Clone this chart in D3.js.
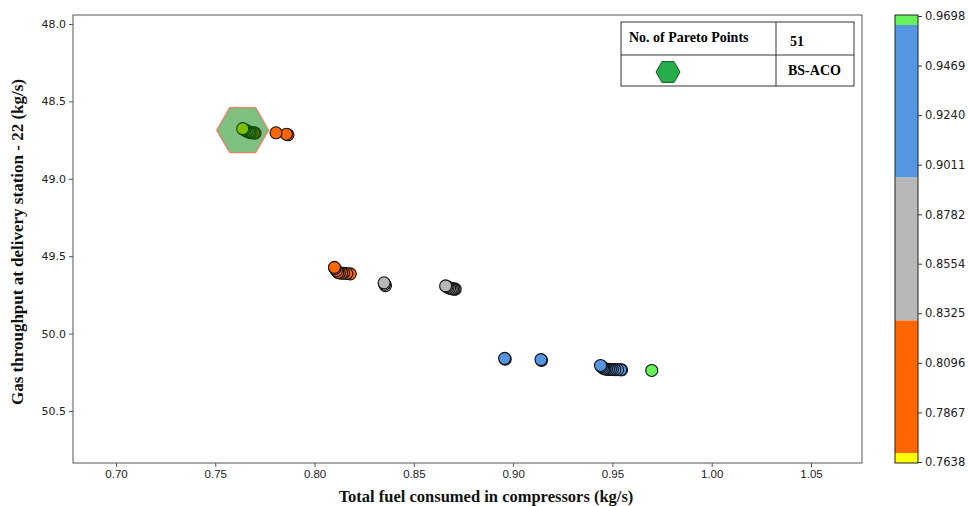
<!DOCTYPE html>
<html>
<head>
<meta charset="utf-8">
<script src="https://cdn.jsdelivr.net/npm/d3@7"></script>
<style>
  html, body { margin: 0; padding: 0; background: #fff; }
  svg { display: block; }
</style>
</head>
<body>
<svg id="chart" width="968" height="506"></svg>
<script>
// Pareto front: total compressor fuel (kg/s) vs gas throughput at delivery station 22 (kg/s)
const fuel = [
  0.7638, 0.7643, 0.7649, 0.7655, 0.7661, 0.7668, 0.7675, 0.7681, 0.7693, 0.7700,
  0.7806, 0.7858, 0.7866,
  0.8100, 0.8103, 0.8110, 0.8117, 0.8125, 0.8136, 0.8146, 0.8162, 0.8180,
  0.8350, 0.8353, 0.8357,
  0.8660, 0.8666, 0.8672, 0.8680, 0.8688, 0.8695, 0.8702, 0.8708,
  0.8957, 0.8960, 0.9140, 0.9143,
  0.9440, 0.9444, 0.9450, 0.9456, 0.9462, 0.9470, 0.9480, 0.9490, 0.9500, 0.9512, 0.9526, 0.9542, 0.9546,
  0.9698
];
const throughput = [
  48.676, 48.680, 48.684, 48.689, 48.693, 48.697, 48.700, 48.702, 48.703, 48.705,
  48.703, 48.712, 48.716,
  49.572, 49.580, 49.594, 49.604, 49.608, 49.610, 49.610, 49.612, 49.614,
  49.672, 49.681, 49.690,
  49.692, 49.697, 49.702, 49.706, 49.709, 49.711, 49.712, 49.713,
  50.160, 50.165, 50.168, 50.173,
  50.206, 50.212, 50.219, 50.225, 50.228, 50.230, 50.231, 50.232, 50.232, 50.233, 50.233, 50.234, 50.234,
  50.238
];

// Axis ticks
const xTicks = [0.70, 0.75, 0.80, 0.85, 0.90, 0.95, 1.00, 1.05];
const yTicks = [48.0, 48.5, 49.0, 49.5, 50.0, 50.5];
const cbarTicks = [0.7638, 0.7867, 0.8096, 0.8325, 0.8554, 0.8782, 0.9011, 0.9240, 0.9469, 0.9698];

// Colour bands of the colour bar (by fuel value)
const bandEdges = [0.7638, 0.7684, 0.8294, 0.8952, 0.9652, 0.9698];
const bandColors = ["#ffff00", "#ff6600", "#b8b8b8", "#5596e3", "#66f25a"];

const legendCount = "51";
const legendName = "BS-ACO";

const svg = d3.select("#chart");
const plot = { left: 73, right: 862, top: 15, bottom: 463 };

const x = d3.scaleLinear().domain([0.67835, 1.07568]).range([plot.left, plot.right]);
const y = d3.scaleLinear().domain([47.942, 50.836]).range([plot.top, plot.bottom]);
const color = d3.scaleThreshold().domain(bandEdges.slice(1, -1)).range(bandColors);

// Points (drawn right-to-left so left points sit on top)
const pts = fuel.map((f, i) => ({ f, t: throughput[i] }))
  .sort((a, b) => b.f - a.f || b.t - a.t);

svg.append("g").selectAll("circle").data(pts).join("circle")
  .attr("cx", d => x(d.f))
  .attr("cy", d => y(d.t))
  .attr("r", 6)
  .attr("fill", d => color(d.f))
  .attr("stroke", "#111")
  .attr("stroke-width", 1.1);

// Hexagon highlighting the minimum-fuel solution
function hexPath(cx, cy, r) {
  const p = d3.range(6).map(k => {
    const a = Math.PI / 3 * k;
    return [cx + r * Math.cos(a), cy + r * Math.sin(a)];
  });
  return "M" + p.map(q => q.join(",")).join("L") + "Z";
}
const best = pts.reduce((a, b) => (b.f < a.f ? b : a));
svg.append("path")
  .attr("d", hexPath(x(best.f), y(best.t) + 1.5, 26))
  .attr("fill", "rgba(0,128,0,0.5)")
  .attr("stroke", "rgba(245,110,90,0.8)")
  .attr("stroke-width", 1.3);

// Frame
svg.append("rect")
  .attr("x", plot.left).attr("y", plot.top)
  .attr("width", plot.right - plot.left).attr("height", plot.bottom - plot.top)
  .attr("fill", "none").attr("stroke", "#555").attr("stroke-width", 1);

// X axis
const xAxis = svg.append("g").attr("transform", `translate(0,${plot.bottom})`)
  .call(d3.axisBottom(x).tickValues(xTicks).tickFormat(d3.format(".2f")).tickSize(4).tickSizeOuter(0));
xAxis.select(".domain").remove();
xAxis.selectAll("line").attr("stroke", "#555");
xAxis.selectAll("text").attr("font-family", "Liberation Sans, Arial, sans-serif")
  .attr("font-size", 11.5).attr("fill", "#222").attr("dy", "0.75em").attr("y", 6);

// Y axis
const yAxis = svg.append("g").attr("transform", `translate(${plot.left},0)`)
  .call(d3.axisLeft(y).tickValues(yTicks).tickFormat(d3.format(".1f")).tickSize(4).tickSizeOuter(0));
yAxis.select(".domain").remove();
yAxis.selectAll("line").attr("stroke", "#555");
yAxis.selectAll("text").attr("font-family", "DejaVu Sans, sans-serif")
  .attr("font-size", 11).attr("fill", "#222").attr("x", -7);

// Axis titles
svg.append("text")
  .attr("x", 486).attr("y", 502)
  .attr("text-anchor", "middle")
  .attr("font-family", "Liberation Serif, Times New Roman, serif")
  .attr("font-weight", "bold").attr("font-size", 16.5)
  .attr("fill", "#111")
  .text("Total fuel consumed in compressors (kg/s)");

svg.append("text")
  .attr("transform", "translate(23,242) rotate(-90)")
  .attr("text-anchor", "middle")
  .attr("font-family", "Liberation Serif, Times New Roman, serif")
  .attr("font-weight", "bold").attr("font-size", 17)
  .attr("fill", "#111")
  .text("Gas throughput at delivery station - 22 (kg/s)");

// Legend table
const lg = svg.append("g");
const tb = { x0: 621, x1: 854, y0: 22, y1: 86, ymid: 55, xmid: 776 };
lg.append("rect").attr("x", tb.x0).attr("y", tb.y0)
  .attr("width", tb.x1 - tb.x0).attr("height", tb.y1 - tb.y0)
  .attr("fill", "#fff").attr("stroke", "#333").attr("stroke-width", 1);
lg.append("line").attr("x1", tb.x0).attr("x2", tb.x1).attr("y1", tb.ymid).attr("y2", tb.ymid)
  .attr("stroke", "#333");
lg.append("line").attr("x1", tb.xmid).attr("x2", tb.xmid).attr("y1", tb.y0).attr("y2", tb.y1)
  .attr("stroke", "#333");
const serif = "Liberation Serif, Times New Roman, serif";
lg.append("text").attr("x", 629).attr("y", 42)
  .attr("font-family", serif).attr("font-weight", "bold").attr("font-size", 14)
  .text("No. of Pareto Points");
lg.append("text").attr("x", 790).attr("y", 46)
  .attr("font-family", serif).attr("font-weight", "bold").attr("font-size", 14)
  .text(legendCount);
lg.append("text").attr("x", 788).attr("y", 75)
  .attr("font-family", serif).attr("font-weight", "bold").attr("font-size", 14)
  .text(legendName);
lg.append("path").attr("d", hexPath(668, 72, 12))
  .attr("fill", "#27ad4a").attr("stroke", "#145a22").attr("stroke-width", 1);

// Colour bar
const cb = { x: 895, w: 23 };
const cy = d3.scaleLinear().domain([bandEdges[0], bandEdges[bandEdges.length - 1]]).range([463, 15]);
const cbg = svg.append("g");
cbg.selectAll("rect").data(bandColors).join("rect")
  .attr("x", cb.x).attr("width", cb.w)
  .attr("y", (c, i) => cy(bandEdges[i + 1]))
  .attr("height", (c, i) => cy(bandEdges[i]) - cy(bandEdges[i + 1]))
  .attr("fill", c => c);
cbg.append("rect").attr("x", cb.x).attr("y", 15).attr("width", cb.w).attr("height", 448)
  .attr("fill", "none").attr("stroke", "#222").attr("stroke-width", 1);
const cAxis = cbg.append("g").attr("transform", `translate(${cb.x + cb.w},0)`)
  .call(d3.axisRight(d3.scaleLinear().domain(cy.domain()).range([462, 16]))
    .tickValues(cbarTicks).tickFormat(d3.format(".4f")).tickSize(4).tickSizeOuter(0));
cAxis.select(".domain").remove();
cAxis.selectAll("line").attr("stroke", "#333");
cAxis.selectAll("text").attr("font-family", "DejaVu Sans, sans-serif")
  .attr("font-size", 11.5).attr("fill", "#222").attr("x", 7);
</script>
</body>
</html>
